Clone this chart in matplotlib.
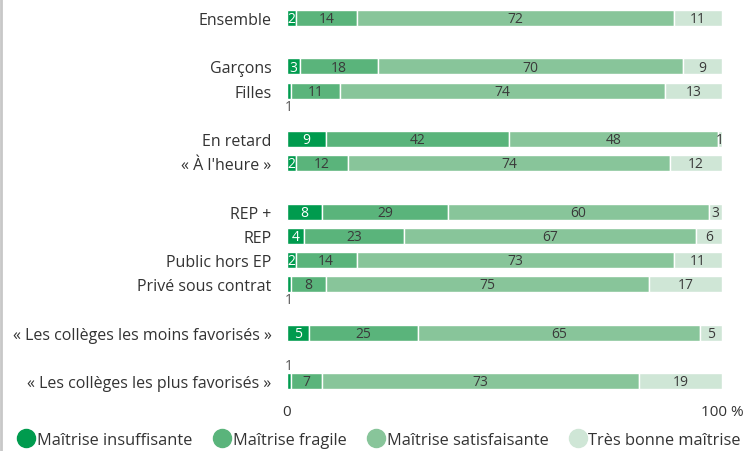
import matplotlib
matplotlib.use("Agg")
import matplotlib.pyplot as plt
from matplotlib.lines import Line2D
import numpy as np

plt.rcParams['font.family'] = ['Open Sans', 'DejaVu Sans']

categories = ["Ensemble", "Garçons", "Filles", "En retard", "« À l'heure »",
              "REP +", "REP", "Public hors EP", "Privé sous contrat",
              "« Les collèges les moins favorisés »",
              "« Les collèges les plus favorisés »"]
positions = [0, 2, 3, 5, 6, 8, 9, 10, 11, 13, 15]

series_names = ["Maîtrise insuffisante", "Maîtrise fragile",
                "Maîtrise satisfaisante", "Très bonne maîtrise"]
insuffisante = [2, 3, 1, 9, 2, 8, 4, 2, 1, 5, 1]
fragile = [14, 18, 11, 42, 12, 29, 23, 14, 8, 25, 7]
satisfaisante = [72, 70, 74, 48, 74, 60, 67, 73, 75, 65, 73]
tres_bonne = [11, 9, 13, 1, 12, 3, 6, 11, 17, 5, 19]

tick_values = [0, 100]
tick_labels = ["0", "100 %"]

colors = ["#009B4E", "#5AB47B", "#88C59A", "#CFE6D6"]
text_colors = ["white", "#3a3a3a", "#3a3a3a", "#3a3a3a"]

# placement of labels for tiny first segments: 'below', 'above'
outside_first = {2: 'below', 8: 'below', 10: 'above'}

W, H = 746, 452
fig = plt.figure(figsize=(W / 100, H / 100), dpi=100)
top_px = 19 - 0.6 * 24.2
bot_px = 382 + 0.6 * 24.2
ax = fig.add_axes([287 / W, (H - bot_px) / H, (722 - 287) / W, (bot_px - top_px) / H])

data = np.array([insuffisante, fragile, satisfaisante, tres_bonne], dtype=float)
totals = data.sum(axis=0)
norm = data / totals * 100
left = np.zeros(len(categories))
for s in range(4):
    ax.barh(positions, norm[s], left=left, height=0.66, color=colors[s],
            edgecolor="white", linewidth=1.0, label=series_names[s])
    for i, p in enumerate(positions):
        v = int(data[s, i])
        cx = left[i] + norm[s, i] / 2
        if s == 0 and i in outside_first:
            dy = 0.64 if outside_first[i] == 'below' else -0.64
            ax.text(left[i] + 0.3, p + dy, str(v), ha='center', va='center',
                    fontsize=10, color="#555555")
        else:
            ax.text(cx, p + 0.03, str(v), ha='center', va='center',
                    fontsize=10, color=text_colors[s])
    left += norm[s]

ax.set_xlim(0, 100)
ax.set_ylim(15.6, -0.6)
ax.set_yticks(positions)
ax.set_yticklabels(categories, fontsize=11.5, color="#333333")
ax.set_xticks(tick_values)
ax.set_xticklabels(tick_labels, fontsize=11, color="#333333")
ax.tick_params(axis='y', length=0, pad=11)
ax.tick_params(axis='x', length=0, pad=6)
for sp in ax.spines.values():
    sp.set_visible(False)

handles = [Line2D([0], [0], marker='o', linestyle='None', markersize=13,
                  markerfacecolor=c, markeredgecolor=c) for c in colors]
fig.legend(handles, series_names, loc='center', bbox_to_anchor=(0.51, 1 - 441 / H),
           ncol=4, frameon=False, fontsize=11.8, handlelength=0.8,
           handletextpad=0.25, columnspacing=1.4, labelcolor="#333333")

fig.add_artist(Line2D([0.0015, 0.0015], [0, 1], color="#c8c8c8", linewidth=2,
                      transform=fig.transFigure))

fig.savefig("out.png", dpi=100)
